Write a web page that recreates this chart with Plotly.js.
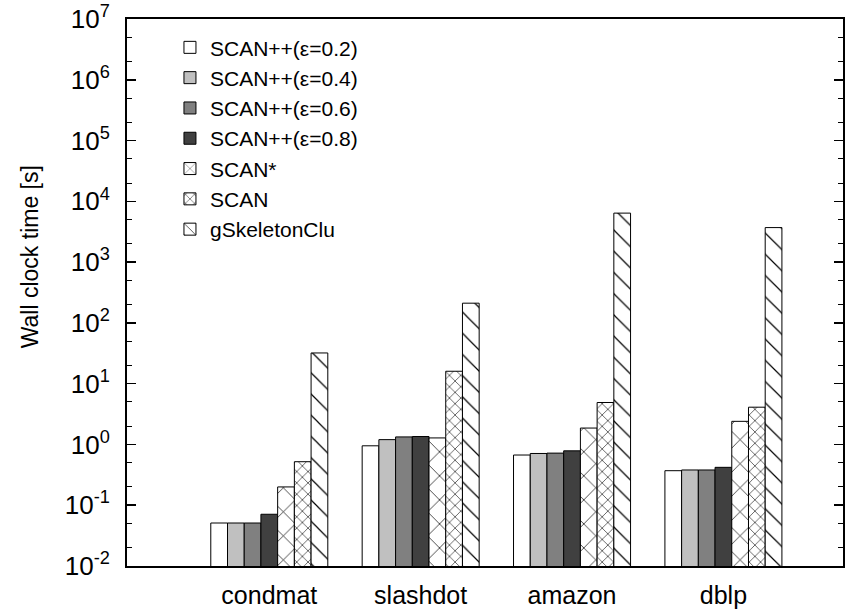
<!DOCTYPE html>
<html>
<head>
<meta charset="utf-8">
<script src="https://cdn.plot.ly/plotly-3.0.1.min.js"></script>
<style>html,body{margin:0;padding:0;background:#fff}#chart{width:855px;height:614px}</style>
</head>
<body>
<div id="chart"></div>
<script>
const categories = ["condmat", "slashdot", "amazon", "dblp"];
const seriesNames = ["SCAN++(ε=0.2)", "SCAN++(ε=0.4)", "SCAN++(ε=0.6)", "SCAN++(ε=0.8)", "SCAN*", "SCAN", "gSkeletonClu"];
const scanpp02 = [0.051, 0.95, 0.67, 0.37];
const scanpp04 = [0.051, 1.2, 0.71, 0.38];
const scanpp06 = [0.051, 1.33, 0.72, 0.38];
const scanpp08 = [0.071, 1.35, 0.785, 0.42];
const scanStar = [0.2, 1.28, 1.86, 2.4];
const scan = [0.52, 16, 4.9, 4.1];
const gSkeletonClu = [32, 211, 6400, 3700];
const yTickVals = [0.01, 0.1, 1, 10, 100, 1000, 1e4, 1e5, 1e6, 1e7];
const yTickText = ["10<sup>-2</sup>", "10<sup>-1</sup>", "10<sup>0</sup>", "10<sup>1</sup>", "10<sup>2</sup>",
                   "10<sup>3</sup>", "10<sup>4</sup>", "10<sup>5</sup>", "10<sup>6</sup>", "10<sup>7</sup>"];
const yTitle = "Wall clock time [s]";

const values = [scanpp02, scanpp04, scanpp06, scanpp08, scanStar, scan, gSkeletonClu];
const fills = ["#ffffff", "#c0c0c0", "#808080", "#404040", "#ffffff", "#ffffff", "#ffffff"];
const patterns = [null, null, null, null,
  {shape: "x", size: 17, solidity: 0.08, fgcolor: "#000", bgcolor: "#fff"},
  {shape: "x", size: 8, solidity: 0.14, fgcolor: "#000", bgcolor: "#fff"},
  {shape: "\\", size: 15, solidity: 0.08, fgcolor: "#000", bgcolor: "#fff"}];

const xIdx = categories.map((c, i) => i);
const traces = values.map((v, k) => {
  const marker = {color: fills[k], line: {color: "#000", width: 1}};
  if (patterns[k]) marker.pattern = patterns[k];
  return {type: "bar", name: seriesNames[k], x: xIdx, y: v, marker: marker};
});

const fam = "Liberation Sans, Arial, sans-serif";
const layout = {
  width: 855, height: 614,
  margin: {l: 127, r: 12, t: 19, b: 48},
  paper_bgcolor: "#fff", plot_bgcolor: "#fff",
  font: {family: fam, size: 22, color: "#000"},
  barmode: "group", bargap: 0.227, bargroupgap: 0,
  showlegend: true,
  legend: {x: 0.06, y: 0.985, xanchor: "left", yanchor: "top", bgcolor: "rgba(0,0,0,0)",
           font: {family: fam, size: 21, color: "#000"}, tracegroupgap: 0},
  xaxis: {
    range: [-0.94, 3.79], tickmode: "array", tickvals: xIdx, ticktext: categories,
    showline: true, mirror: true, linecolor: "#000", linewidth: 2,
    ticks: "", showgrid: false, zeroline: false,
    tickfont: {family: fam, size: 25, color: "#000"}, ticklabelstandoff: 6
  },
  yaxis: {
    type: "log", range: [-2, 7], tickmode: "array", tickvals: yTickVals, ticktext: yTickText,
    showline: true, mirror: "ticks", linecolor: "#000", linewidth: 2,
    ticks: "inside", ticklen: 9, tickwidth: 1.5, tickcolor: "#000",
    minor: {dtick: "D2", ticks: "inside", ticklen: 5, tickwidth: 1, tickcolor: "#000", showgrid: false},
    showgrid: false, zeroline: false,
    tickfont: {family: fam, size: 26, color: "#000"}, ticklabelstandoff: 10
  },
  annotations: [{
    text: yTitle, xref: "paper", yref: "paper", x: -0.135, y: 0.565,
    xanchor: "center", yanchor: "middle", textangle: -90, showarrow: false,
    font: {family: fam, size: 23, color: "#000"}
  }]
};
Plotly.newPlot("chart", traces, layout, {staticPlot: true});
</script>
</body>
</html>
